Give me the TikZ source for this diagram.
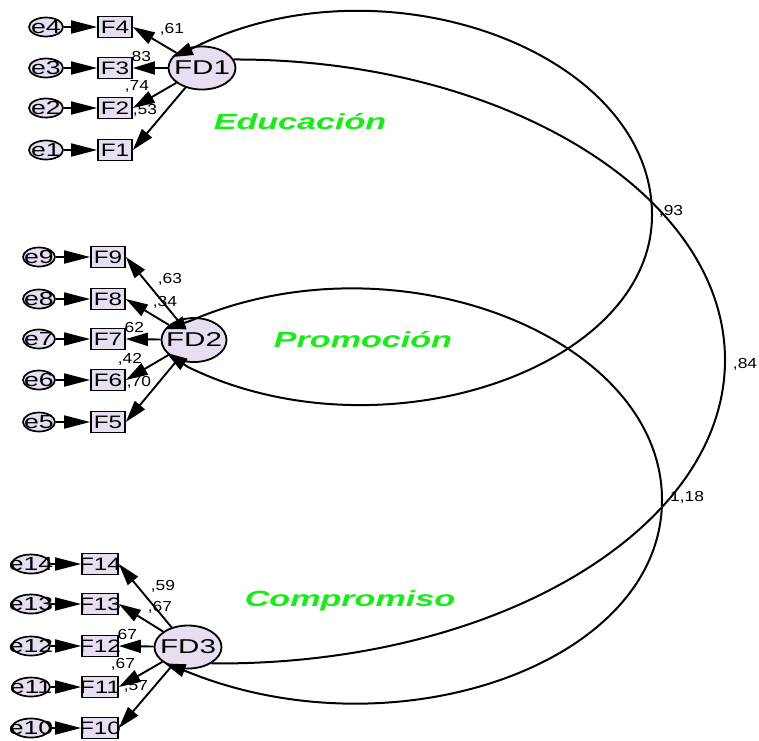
\documentclass[tikz,border=0pt]{standalone}
\usepackage{fontspec}
\setmainfont{Liberation Sans}
\usepackage{graphicx}
\usetikzlibrary{shapes.geometric,arrows.meta}
\definecolor{lav}{RGB}{232,222,242}
\definecolor{grn}{RGB}{20,238,20}
% horizontally widened text of zero width (may overflow its shape)
\newcommand{\wtxt}[2]{\makebox[0pt]{\scalebox{#1}[1]{#2}}}
\newcommand{\cf}[1]{\scalebox{1.2}[1]{#1}}
\newcommand{\gl}[1]{\scalebox{1.55}[1]{#1}}

\begin{document}
\begin{tikzpicture}[x=1pt,y=-1pt,
  evar/.style={ellipse, draw, fill=lav, line width=1.7pt, minimum width=34pt,
    minimum height=19pt, inner sep=0pt, font=\fontsize{19}{19}\selectfont},
  obs/.style={rectangle, draw, fill=lav, line width=1.7pt, minimum width=34pt,
    minimum height=21pt, inner sep=0pt, font=\fontsize{18}{18}\selectfont},
  lat/.style={ellipse, draw, fill=lav, line width=1.8pt, minimum width=67pt,
    minimum height=43pt, inner sep=0pt, font=\fontsize{20}{20}\selectfont},
  coef/.style={font=\fontsize{14.5}{14.5}\selectfont, inner sep=0pt},
  factor/.style={font=\fontsize{22}{22}\selectfont\bfseries\itshape, text=grn, inner sep=0pt},
  err/.style={line width=1.8pt, -{Triangle[length=26pt,width=13pt]}},
  load/.style={line width=1.9pt, -{Triangle[length=22pt,width=13pt]}},
  cov/.style={line width=2pt},
  covboth/.style={line width=2pt, {Triangle[length=21pt,width=13pt]}-{Triangle[length=21pt,width=13pt]}}
]
\fill[white] (0,0) rectangle (759,740);
\useasboundingbox (0,0) rectangle (759,740);

% loading and covariance values
\node[coef] (c61) at (172,29) {\cf{,61}};
\node[coef] (c83) at (139,57) {\cf{,83}};
\node[coef] (c74) at (137,86) {\cf{,74}};
\node[coef] (c53) at (145,110) {\cf{,53}};
\node[coef] (c63) at (170,279) {\cf{,63}};
\node[coef] (c34) at (165,302) {\cf{,34}};
\node[coef] (c62) at (132,328) {\cf{,62}};
\node[coef] (c42) at (130,359) {\cf{,42}};
\node[coef] (c70) at (139,382) {\cf{,70}};
\node[coef] (c59) at (163,586) {\cf{,59}};
\node[coef] (c67a) at (160,607) {\cf{,67}};
\node[coef] (c67b) at (125,635) {\cf{,67}};
\node[coef] (c67c) at (123,664) {\cf{,67}};
\node[coef] (c57) at (136,686) {\cf{,57}};
\node[coef] (c93) at (671,211) {\cf{,93}};
\node[coef] (c84) at (745,364) {\cf{,84}};
\node[coef] (c118) at (687,497) {\cf{1,18}};

% factor names
\node[factor] (t1) at (300,122) {\gl{Educación}};
\node[factor] (t2) at (363,340) {\gl{Promoción}};
\node[factor] (t3) at (350,601) {\gl{Compromiso}};

% first factor
\node[evar] (e4) at (46,27) {\wtxt{1.4}{e4}};
\node[evar] (e3) at (46,68) {\wtxt{1.4}{e3}};
\node[evar] (e2) at (46,108) {\wtxt{1.4}{e2}};
\node[evar] (e1) at (46,150) {\wtxt{1.4}{e1}};
\node[obs] (F4) at (115,27) {\wtxt{1.35}{F4}};
\node[obs] (F3) at (115,68) {\wtxt{1.35}{F3}};
\node[obs] (F2) at (115,108) {\wtxt{1.35}{F2}};
\node[obs] (F1) at (115,150) {\wtxt{1.35}{F1}};
\node[lat] (FD1) at (202,68) {\wtxt{1.48}{FD1}};

% second factor
\node[evar, minimum width=32pt] (e9) at (39,257) {\wtxt{1.4}{e9}};
\node[evar, minimum width=32pt] (e8) at (39,299) {\wtxt{1.4}{e8}};
\node[evar, minimum width=32pt] (e7) at (39,339) {\wtxt{1.4}{e7}};
\node[evar, minimum width=32pt] (e6) at (39,380) {\wtxt{1.4}{e6}};
\node[evar, minimum width=32pt] (e5) at (39,422) {\wtxt{1.4}{e5}};
\node[obs] (F9) at (108,257) {\wtxt{1.35}{F9}};
\node[obs] (F8) at (108,299) {\wtxt{1.35}{F8}};
\node[obs] (F7) at (108,339) {\wtxt{1.35}{F7}};
\node[obs] (F6) at (108,380) {\wtxt{1.35}{F6}};
\node[obs] (F5) at (108,422) {\wtxt{1.35}{F5}};
\node[lat, minimum width=65pt, minimum height=44pt] (FD2) at (194,340) {\wtxt{1.48}{FD2}};

% third factor
\node[evar, minimum width=38pt] (e14) at (31,564) {\wtxt{1.4}{e14}};
\node[evar, minimum width=38pt] (e13) at (31,604) {\wtxt{1.4}{e13}};
\node[evar, minimum width=38pt] (e12) at (31,646) {\wtxt{1.4}{e12}};
\node[evar, minimum width=38pt] (e11) at (31,687) {\wtxt{1.4}{e11}};
\node[evar, minimum width=38pt] (e10) at (31,728) {\wtxt{1.4}{e10}};
\node[obs, minimum width=36pt] (F14) at (100,564) {\wtxt{1.35}{F14}};
\node[obs, minimum width=36pt] (F13) at (100,604) {\wtxt{1.35}{F13}};
\node[obs, minimum width=36pt] (F12) at (100,646) {\wtxt{1.35}{F12}};
\node[obs, minimum width=36pt] (F11) at (100,687) {\wtxt{1.35}{F11}};
\node[obs, minimum width=36pt] (F10) at (100,728) {\wtxt{1.35}{F10}};
\node[lat] (FD3) at (188,647) {\wtxt{1.48}{FD3}};

% error terms
\foreach \i in {1,...,14} \draw[err] (e\i) -- (F\i);

% loadings
\foreach \i in {1,...,4} \draw[load] (FD1) -- (F\i.east);
\foreach \i in {5,...,9} \draw[load] (FD2) -- (F\i.east);
\foreach \i in {10,...,14} \draw[load] (FD3) -- (F\i.east);

% covariances
\draw[covboth] (FD1.160) -- (193,48)
  .. controls (383,-47) and (652,51) .. (652,215)
  .. controls (652,370) and (380,461) .. (188,367) -- (FD2.205);
\draw[cov] (FD1.15)
  .. controls (504,59) and (725,194) .. (725,360)
  .. controls (725,529) and (496,666) .. (FD3.-35);
\draw[covboth] (FD2.160) -- (190,321)
  .. controls (395,232) and (662,336) .. (662,500)
  .. controls (662,664) and (396,756) .. (188,672) -- (FD3.215);
\end{tikzpicture}
\end{document}
